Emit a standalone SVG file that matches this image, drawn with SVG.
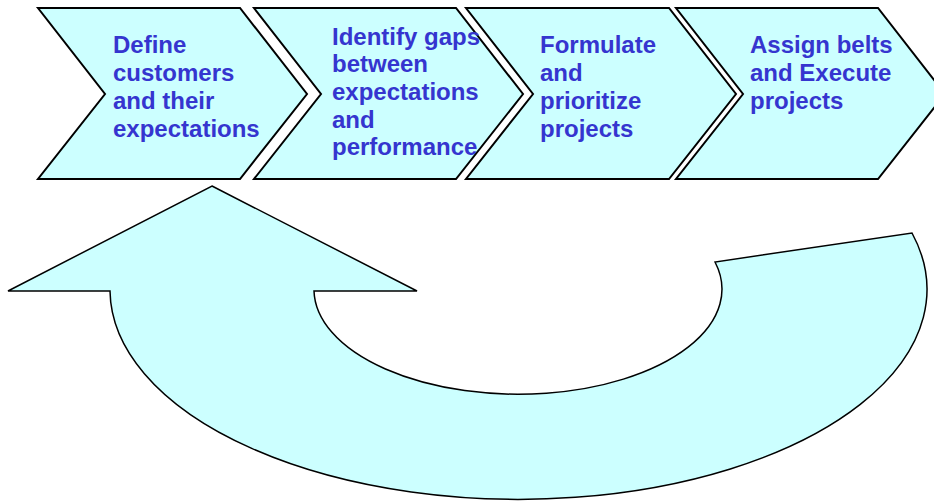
<svg xmlns="http://www.w3.org/2000/svg" width="934" height="502" viewBox="0 0 934 502">
<style>
.shape{fill:#CCFFFF;stroke:#000;stroke-width:2;stroke-linejoin:miter}
.arrow{fill:#CCFFFF;stroke:#000;stroke-width:1.5}
.lbl{font-family:"Liberation Sans",Arial,sans-serif;font-weight:bold;font-size:24px;fill:#3535CF}
</style>
<rect width="934" height="502" fill="#fff"/>
<g id="step1">
<polygon class="shape" points="38,8 240,8 307,94 240,179 38,179 105,94"/>
<text class="lbl" x="113"><tspan x="113" y="53">Define</tspan><tspan x="113" y="81">customers</tspan><tspan x="113" y="109">and their</tspan><tspan x="113" y="137">expectations</tspan></text>
</g>
<g id="step2">
<polygon class="shape" points="254,8 456,8 523,94 456,179 254,179 321,94"/>
<text class="lbl"><tspan x="332" y="45">Identify gaps</tspan><tspan x="332" y="72">between</tspan><tspan x="332" y="100">expectations</tspan><tspan x="332" y="128">and</tspan><tspan x="332" y="155">performance</tspan></text>
</g>
<g id="step3">
<polygon class="shape" points="466,8 669,8 736,94 669,179 466,179 533,94"/>
<text class="lbl"><tspan x="540" y="53">Formulate</tspan><tspan x="540" y="81">and</tspan><tspan x="540" y="109">prioritize</tspan><tspan x="540" y="137">projects</tspan></text>
</g>
<g id="step4">
<polygon class="shape" points="676,8 878,8 945,94 878,179 676,179 743,94"/>
<text class="lbl"><tspan x="750" y="53">Assign belts</tspan><tspan x="750" y="81">and Execute</tspan><tspan x="750" y="109">projects</tspan></text>
</g>
<g id="connectors">
<path class="arrow" d="M212,186 L417,291 L314,291 A204,105 0 1 0 715,262 L912,233 A408.5,210 0 1 1 110,291 L8,291 Z"/>
</g>
</svg>
